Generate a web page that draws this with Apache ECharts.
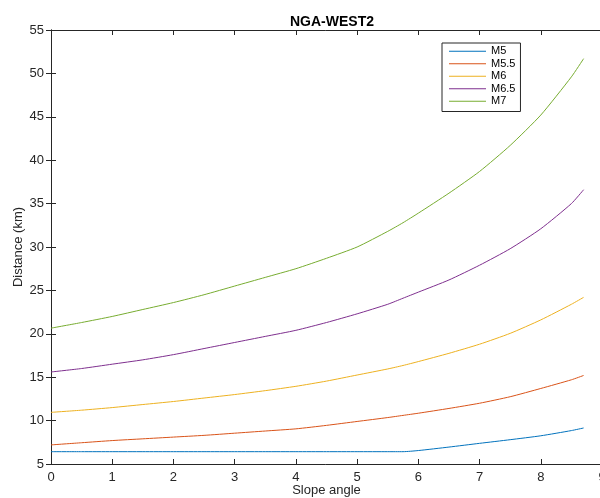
<!DOCTYPE html>
<html>
<head>
<meta charset="utf-8">
<title>NGA-WEST2</title>
<script src="https://cdn.jsdelivr.net/npm/echarts@6/dist/echarts.min.js"></script>
<style>
    html, body { margin: 0; padding: 0; background: #fff; }
    #main { width: 600px; height: 498px; }
</style>
</head>
<body>
<div id="main"></div>
<script>
    // slope angle samples
    var slope = [0, 0.5, 1, 1.5, 2, 2.5, 3, 3.5, 4, 4.5, 5, 5.5, 5.75, 6, 6.5, 7, 7.5, 8, 8.5, 8.7];

    // distance (km) per magnitude
    var m5   = [6.42, 6.42, 6.42, 6.42, 6.42, 6.42, 6.42, 6.42, 6.42, 6.42, 6.42, 6.42, 6.42, 6.55, 6.95, 7.38, 7.8, 8.25, 8.85, 9.15];
    var m55  = [7.2, 7.45, 7.7, 7.9, 8.1, 8.3, 8.55, 8.8, 9.05, 9.45, 9.9, 10.35, 10.6, 10.85, 11.4, 12.0, 12.75, 13.7, 14.7, 15.2];
    var m6   = [10.95, 11.2, 11.5, 11.85, 12.2, 12.6, 13.0, 13.45, 13.95, 14.55, 15.25, 15.95, 16.35, 16.8, 17.75, 18.8, 20.05, 21.6, 23.4, 24.2];
    var m65  = [15.6, 16.0, 16.5, 17.0, 17.6, 18.3, 19.0, 19.7, 20.4, 21.3, 22.3, 23.4, 24.1, 24.8, 26.2, 27.9, 29.8, 32.1, 35.0, 36.6];
    var m7   = [20.65, 21.3, 22.0, 22.8, 23.6, 24.5, 25.5, 26.5, 27.5, 28.7, 30.0, 31.8, 32.8, 33.9, 36.2, 38.7, 41.7, 45.2, 49.6, 51.7];

    var names  = ['M5', 'M5.5', 'M6', 'M6.5', 'M7'];
    var values = [m5, m55, m6, m65, m7];
    var colors = ['#0072BD', '#D95319', '#EDB120', '#7E2F8E', '#77AC30'];

    var axisColor = '#262626';
    var font = '"Liberation Sans", Arial, Helvetica, sans-serif';

    function pairs(ys) {
        var res = [];
        for (var i = 0; i < slope.length; i++) {
            res.push([slope[i], ys[i]]);
        }
        return res;
    }

    var series = [];
    for (var i = 0; i < names.length; i++) {
        series.push({
            name: names[i],
            type: 'line',
            data: pairs(values[i]),
            symbol: 'none',
            smooth: 0.2,
            lineStyle: { width: 1, color: colors[i] },
            itemStyle: { color: colors[i] }
        });
    }

    var myChart = echarts.init(document.getElementById('main'));

    var option = {
        animation: false,
        color: colors,
        title: {
            text: 'NGA-WEST2',
            left: 327,
            textAlign: 'center',
            top: 10,
            textStyle: { fontFamily: font, fontSize: 14, fontWeight: 'bold', color: '#000' }
        },
        legend: {
            orient: 'vertical',
            left: 442,
            top: 43,
            padding: [2, 5, 4, 7],
            icon: 'rect',
            itemWidth: 37,
            itemHeight: 1.2,
            itemGap: 0,
            borderColor: axisColor,
            borderWidth: 1,
            backgroundColor: '#fff',
            textStyle: { fontFamily: font, fontSize: 11, lineHeight: 12.5, color: '#000' },
            data: names
        },
        grid: {
            left: 51,
            top: 30,
            width: 551,
            bottom: 34,
            containLabel: false,
            outerBoundsMode: 'none'
        },
        xAxis: [{
            type: 'value',
            min: 0,
            max: 9,
            interval: 1,
            name: 'Slope angle',
            nameLocation: 'middle',
            nameGap: 20,
            nameMoveOverlap: false,
            nameTextStyle: { fontFamily: font, fontSize: 13, color: axisColor },
            axisLine: { lineStyle: { color: axisColor, width: 1 } },
            axisTick: { inside: true, length: 5, lineStyle: { color: axisColor } },
            axisLabel: { fontFamily: font, fontSize: 13, color: axisColor, margin: 7 },
            splitLine: { show: false }
        }, {
            type: 'value',
            position: 'top',
            min: 0,
            max: 9,
            interval: 1,
            axisLine: { lineStyle: { color: axisColor, width: 1 } },
            axisTick: { inside: true, length: 5, lineStyle: { color: axisColor } },
            axisLabel: { show: false },
            splitLine: { show: false }
        }],
        yAxis: [{
            type: 'value',
            min: 5,
            max: 55,
            interval: 5,
            name: 'Distance (km)',
            nameLocation: 'middle',
            nameGap: 26,
            nameMoveOverlap: false,
            nameTextStyle: { fontFamily: font, fontSize: 13, color: axisColor },
            axisLine: { show: true, lineStyle: { color: axisColor, width: 1 } },
            axisTick: { show: true, inside: true, length: 5, lineStyle: { color: axisColor } },
            axisLabel: { fontFamily: font, fontSize: 13, color: axisColor, margin: 7 },
            splitLine: { show: false }
        }, {
            type: 'value',
            position: 'right',
            min: 5,
            max: 55,
            interval: 5,
            axisLine: { show: true, lineStyle: { color: axisColor, width: 1 } },
            axisTick: { show: true, inside: true, length: 5, lineStyle: { color: axisColor } },
            axisLabel: { show: false },
            splitLine: { show: false }
        }],
        series: series
    };

    myChart.setOption(option);
</script>
</body>
</html>
